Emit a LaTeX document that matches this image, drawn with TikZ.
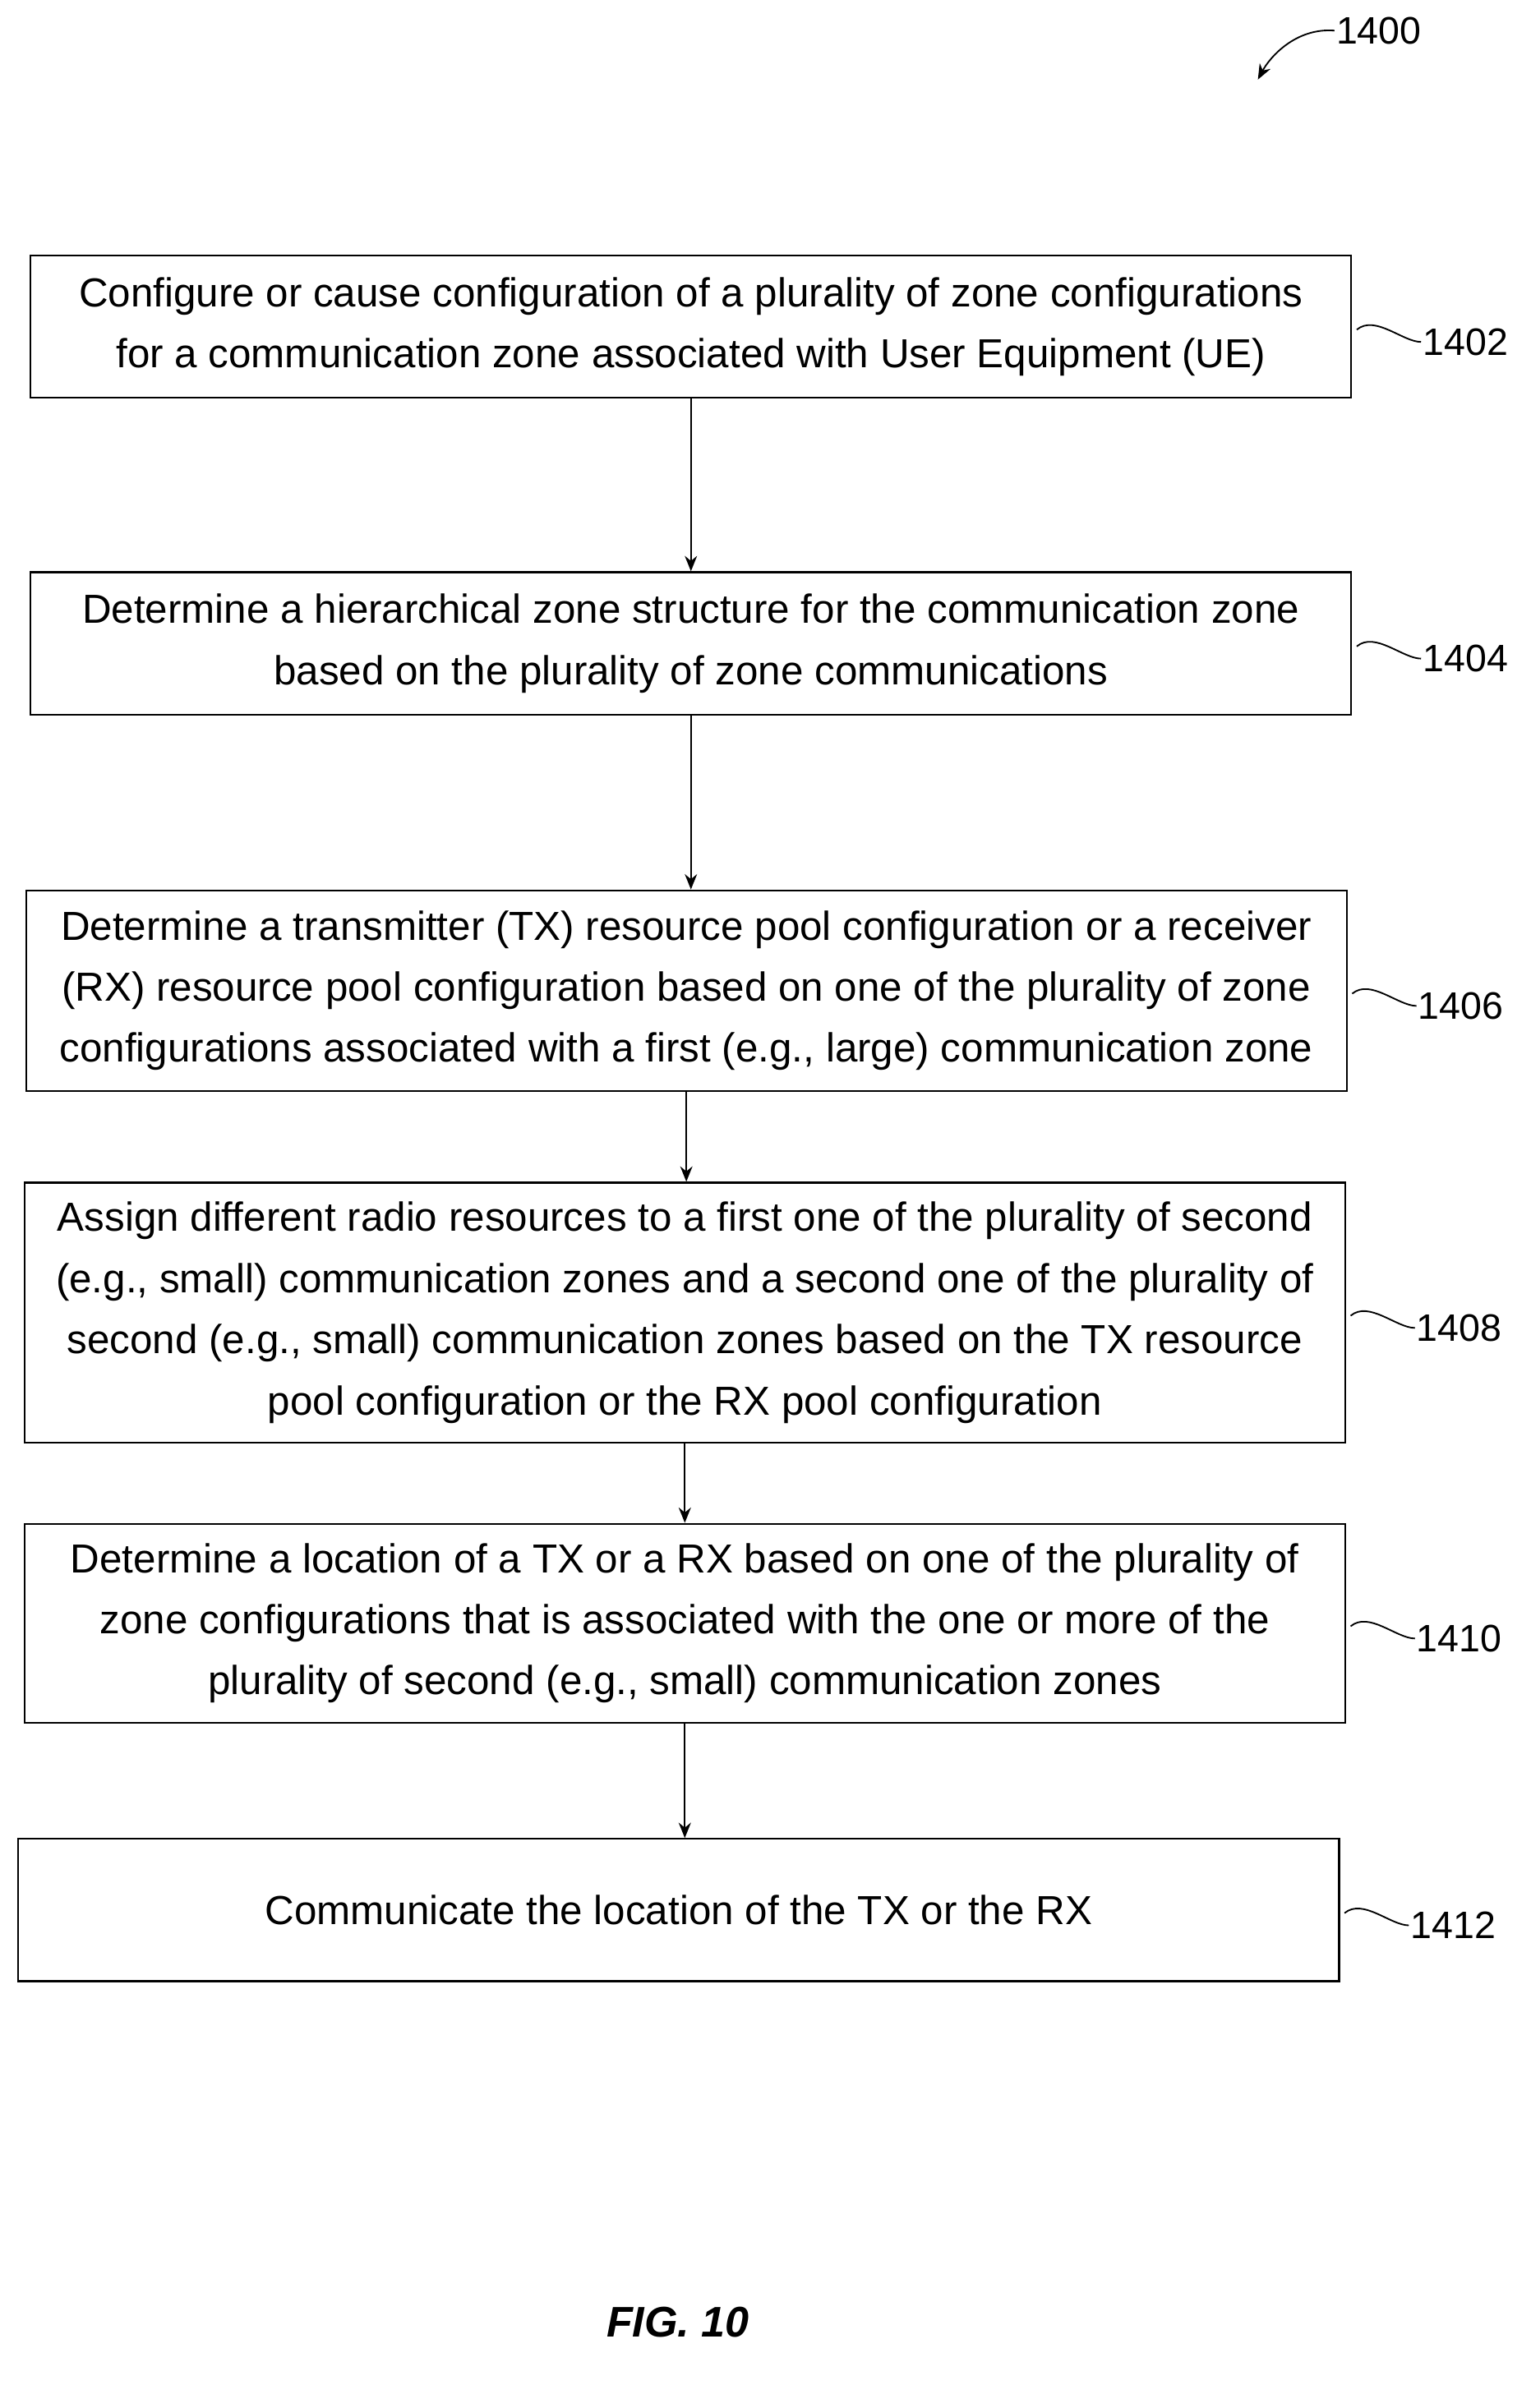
\documentclass[tikz,border=0pt]{standalone}
\usepackage{fontspec}
\setmainfont{Liberation Sans}
\usetikzlibrary{arrows.meta}
\tikzset{blk/.style={draw,line width=1.2pt,inner sep=0pt,align=center,font=\fontsize{26.5}{40}\selectfont},
  flow/.style={-{Stealth[length=10pt,width=8pt]},line width=1.2pt},
  lbl/.style={font=\fontsize{25}{28}\selectfont,anchor=west,inner sep=1pt}}
\newcommand\reftag[2]{% box, number
  \draw[line width=1pt] (#1.east) ++(3,2) .. controls +(12,-10) and +(-12,0) .. ++(42,8) coordinate (t#2);
  \node[lbl] (l#2) at (t#2) {#2};}
\begin{document}
\begin{tikzpicture}[x=1pt,y=-1pt]
\useasboundingbox (0,0) rectangle (1000,1574);
\node[blk,minimum width=863,minimum height=93] (b1) at (451.5,213.5) {Configure or cause configuration of a plurality of zone configurations\\for a communication zone associated with User Equipment (UE)};
\node[blk,minimum width=863,minimum height=93] (b2) at (451.5,420.5) {Determine a hierarchical zone structure for the communication zone\\based on the plurality of zone communications};
\node[blk,minimum width=863,minimum height=131] (b3) at (448.5,647.5) {Determine a transmitter (TX) resource pool configuration or a receiver\\(RX) resource pool configuration based on one of the plurality of zone\\configurations associated with a first (e.g., large) communication zone};
\node[blk,minimum width=863,minimum height=170] (b4) at (447.5,858) {Assign different radio resources to a first one of the plurality of second\\(e.g., small) communication zones and a second one of the plurality of\\second (e.g., small) communication zones based on the TX resource\\pool configuration or the RX pool configuration};
\node[blk,minimum width=863,minimum height=130] (b5) at (447.5,1061) {Determine a location of a TX or a RX based on one of the plurality of\\zone configurations that is associated with the one or more of the\\plurality of second (e.g., small) communication zones};
\node[blk,minimum width=863,minimum height=93] (b6) at (443.5,1248.5) {Communicate the location of the TX or the RX};
\draw[flow] (b1.south) -- (b1.south|-b2.north);
\draw[flow] (b2.south) -- (b2.south|-b3.north);
\draw[flow] (b3.south) -- (b3.south|-b4.north);
\draw[flow] (b4.south) -- (b4.south|-b5.north);
\draw[flow] (b5.south) -- (b5.south|-b6.north);
\reftag{b1}{1402}
\reftag{b2}{1404}
\reftag{b3}{1406}
\reftag{b4}{1408}
\reftag{b5}{1410}
\reftag{b6}{1412}
\node[lbl] (fig) at (872,20) {1400};
\coordinate (f0) at (822,52);
\draw[line width=1pt,-{Stealth[length=10pt,width=8pt]}] (fig.west) .. controls +(-25,-2) and +(8,-15) .. (f0);
\node[font=\fontsize{28}{32}\selectfont\itshape\bfseries] (cap) at (443,1518) {FIG. 10};
\end{tikzpicture}
\end{document}
